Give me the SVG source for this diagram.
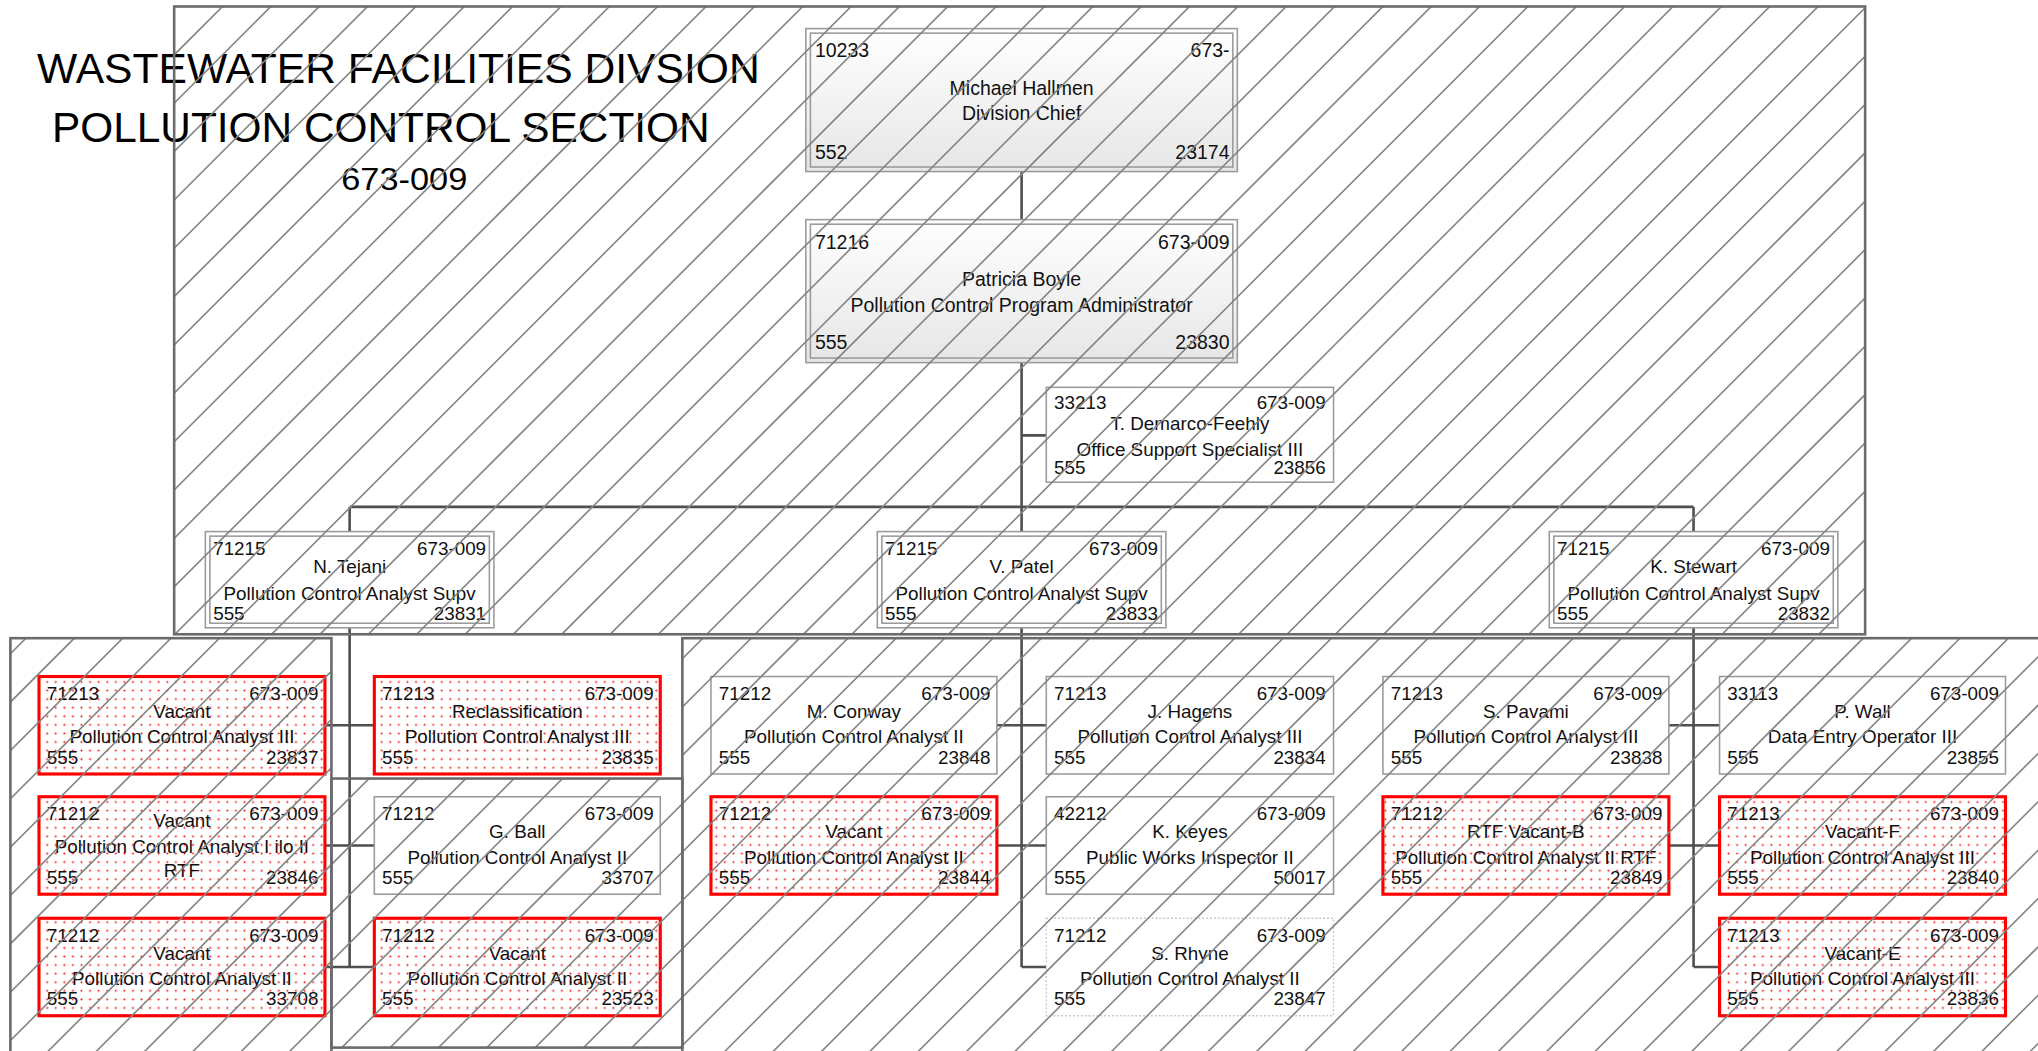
<svg xmlns="http://www.w3.org/2000/svg" width="2038" height="1051" viewBox="0 0 2038 1051">
<defs>
<style>
.fr{fill:none;stroke:#6b6b6b;stroke-width:2}
.cn{fill:none;stroke:#4f4f4f;stroke-width:2}
.n{fill:#fff;stroke:#9a9a9a;stroke-width:1.2}
.di{fill:none;stroke:#9a9a9a;stroke-width:1.2}
.gr{fill:url(#grad);stroke:#9a9a9a;stroke-width:1.2}
.v{fill:url(#dots);stroke:#ff0000;stroke-width:2.4}
.rh{fill:#fff;stroke:#c8c8c8;stroke-width:1;stroke-dasharray:1.5 1.5}
.hl{fill:none;stroke:#858585;stroke-width:1.25}
.t{font-family:"Liberation Sans",Arial,sans-serif;font-size:14.5px;fill:#111}
.big{font-size:15px}
.s{text-anchor:start}.e{text-anchor:end}.m{text-anchor:middle}
.ttl{font-family:"Liberation Sans",Arial,sans-serif;font-size:32px;fill:#000;text-anchor:middle}
</style>
<linearGradient id="grad" x1="0" y1="0" x2="0" y2="1">
<stop offset="0" stop-color="#ffffff"/><stop offset="1" stop-color="#e6e6e6"/>
</linearGradient>
<pattern id="dots" patternUnits="userSpaceOnUse" width="6.6" height="6.6">
<rect width="6.6" height="6.6" fill="#fff"/><circle cx="3.3" cy="3.3" r="0.75" fill="#ff0000"/>
</pattern>
<clipPath id="hclip">
<rect x="134" y="5" width="1301" height="483"/>
<rect x="8" y="491" width="247" height="330"/>
<rect x="255" y="599" width="270" height="207"/>
<rect x="525" y="491" width="1060" height="330"/>
</clipPath>
</defs>
<rect width="2038" height="1051" fill="#fff"/>
<g transform="scale(1.29974)">
<g id="title">
<text class="ttl" x="306.5" y="64" textLength="556" lengthAdjust="spacingAndGlyphs">WASTEWATER FACILITIES DIVSION</text>
<text class="ttl" x="293" y="109" textLength="506" lengthAdjust="spacingAndGlyphs">POLLUTION CONTROL SECTION</text>
<text class="ttl" x="311" y="146" style="font-size:24px" textLength="97" lengthAdjust="spacingAndGlyphs">673-009</text>
</g>
<g id="connectors">
<path class="cn" d="M786,132 V169 M786,279 V409 M786,335 H805 M269,390 H1303 M269,390 V409 M1303,390 V409"/>
<path class="cn" d="M269,483 V744 M250,558 H288 M250,650.5 H288 M250,744 H288"/>
<path class="cn" d="M786,483 V744 M767,558 H805 M767,650.5 H805 M786,744 H805"/>
<path class="cn" d="M1303,483 V744 M1284,558 H1323 M1284,650.5 H1323 M1303,744 H1323"/>
</g>
<g id="n-hallmen">
<rect class="gr" x="620" y="22" width="332" height="110"/><rect class="di" x="623.5" y="25.5" width="325" height="103"/>
<text class="t big s" x="627" y="43.5">10233</text><text class="t big e" x="946" y="43.5">673-</text>
<text class="t big m" x="786" y="73">Michael Hallmen</text><text class="t big m" x="786" y="92">Division Chief</text>
<text class="t big s" x="627" y="122.5">552</text><text class="t big e" x="946" y="122.5">23174</text>
</g>
<g id="n-boyle">
<rect class="gr" x="620" y="169" width="332" height="110"/><rect class="di" x="623.5" y="172.5" width="325" height="103"/>
<text class="t big s" x="627" y="191.5">71216</text><text class="t big e" x="946" y="191.5">673-009</text>
<text class="t big m" x="786" y="220">Patricia Boyle</text><text class="t big m" x="786" y="240">Pollution Control Program Administrator</text>
<text class="t big s" x="627" y="268.5">555</text><text class="t big e" x="946" y="268.5">23830</text>
</g>
<g id="n-demarco">
<rect class="n" x="805" y="298" width="221" height="73"/>
<text class="t s" x="811" y="315">33213</text><text class="t e" x="1020" y="315">673-009</text>
<text class="t m" x="915.5" y="331">T. Demarco-Feehly</text><text class="t m" x="915.5" y="351">Office Support Specialist III</text>
<text class="t s" x="811" y="365">555</text><text class="t e" x="1020" y="365">23856</text>
</g>
<g id="n-tejani">
<rect class="n" x="158" y="409" width="222" height="74"/><rect class="di" x="161.5" y="412.5" width="215" height="67"/>
<text class="t s" x="164" y="427">71215</text><text class="t e" x="374" y="427">673-009</text>
<text class="t m" x="269" y="441">N. Tejani</text><text class="t m" x="269" y="462">Pollution Control Analyst Supv</text>
<text class="t s" x="164" y="477">555</text><text class="t e" x="374" y="477">23831</text>
</g>
<g id="n-patel">
<rect class="n" x="675" y="409" width="222" height="74"/><rect class="di" x="678.5" y="412.5" width="215" height="67"/>
<text class="t s" x="681" y="427">71215</text><text class="t e" x="891" y="427">673-009</text>
<text class="t m" x="786" y="441">V. Patel</text><text class="t m" x="786" y="462">Pollution Control Analyst Supv</text>
<text class="t s" x="681" y="477">555</text><text class="t e" x="891" y="477">23833</text>
</g>
<g id="n-stewart">
<rect class="n" x="1192" y="409" width="222" height="74"/><rect class="di" x="1195.5" y="412.5" width="215" height="67"/>
<text class="t s" x="1198" y="427">71215</text><text class="t e" x="1408" y="427">673-009</text>
<text class="t m" x="1303" y="441">K. Stewart</text><text class="t m" x="1303" y="462">Pollution Control Analyst Supv</text>
<text class="t s" x="1198" y="477">555</text><text class="t e" x="1408" y="477">23832</text>
</g>
<g id="n-vacant-23837">
<rect class="v" x="30" y="520.5" width="220" height="75"/>
<text class="t s" x="36" y="538.5">71213</text><text class="t e" x="245" y="538.5">673-009</text>
<text class="t m" x="140" y="552.5">Vacant</text><text class="t m" x="140" y="572">Pollution Control Analyst III</text>
<text class="t s" x="36" y="587.5">555</text><text class="t e" x="245" y="587.5">23837</text>
</g>
<g id="n-reclass-23835">
<rect class="v" x="288" y="520.5" width="220" height="75"/>
<text class="t s" x="294" y="538.5">71213</text><text class="t e" x="503" y="538.5">673-009</text>
<text class="t m" x="398" y="552.5">Reclassification</text><text class="t m" x="398" y="572">Pollution Control Analyst III</text>
<text class="t s" x="294" y="587.5">555</text><text class="t e" x="503" y="587.5">23835</text>
</g>
<g id="n-vacant-23846">
<rect class="v" x="30" y="613" width="220" height="75"/>
<text class="t s" x="36" y="631">71212</text><text class="t e" x="245" y="631">673-009</text>
<text class="t m" x="140" y="636">Vacant</text><text class="t m" x="140" y="656">Pollution Control Analyst I ilo II</text>
<text class="t m" x="140" y="675">RTF</text>
<text class="t s" x="36" y="680">555</text><text class="t e" x="245" y="680">23846</text>
</g>
<g id="n-ball">
<rect class="n" x="288" y="613" width="220" height="75"/>
<text class="t s" x="294" y="631">71212</text><text class="t e" x="503" y="631">673-009</text>
<text class="t m" x="398" y="645">G. Ball</text><text class="t m" x="398" y="664.5">Pollution Control Analyst II</text>
<text class="t s" x="294" y="680">555</text><text class="t e" x="503" y="680">33707</text>
</g>
<g id="n-vacant-33708">
<rect class="v" x="30" y="706.5" width="220" height="75"/>
<text class="t s" x="36" y="724.5">71212</text><text class="t e" x="245" y="724.5">673-009</text>
<text class="t m" x="140" y="738.5">Vacant</text><text class="t m" x="140" y="758">Pollution Control Analyst II</text>
<text class="t s" x="36" y="773.5">555</text><text class="t e" x="245" y="773.5">33708</text>
</g>
<g id="n-vacant-23523">
<rect class="v" x="288" y="706.5" width="220" height="75"/>
<text class="t s" x="294" y="724.5">71212</text><text class="t e" x="503" y="724.5">673-009</text>
<text class="t m" x="398" y="738.5">Vacant</text><text class="t m" x="398" y="758">Pollution Control Analyst II</text>
<text class="t s" x="294" y="773.5">555</text><text class="t e" x="503" y="773.5">23523</text>
</g>
<g id="n-conway">
<rect class="n" x="547" y="520.5" width="220" height="75"/>
<text class="t s" x="553" y="538.5">71212</text><text class="t e" x="762" y="538.5">673-009</text>
<text class="t m" x="657" y="552.5">M. Conway</text><text class="t m" x="657" y="572">Pollution Control Analyst II</text>
<text class="t s" x="553" y="587.5">555</text><text class="t e" x="762" y="587.5">23848</text>
</g>
<g id="n-hagens">
<rect class="n" x="805" y="520.5" width="221" height="75"/>
<text class="t s" x="811" y="538.5">71213</text><text class="t e" x="1020" y="538.5">673-009</text>
<text class="t m" x="915.5" y="552.5">J. Hagens</text><text class="t m" x="915.5" y="572">Pollution Control Analyst III</text>
<text class="t s" x="811" y="587.5">555</text><text class="t e" x="1020" y="587.5">23834</text>
</g>
<g id="n-vacant-23844">
<rect class="v" x="547" y="613" width="220" height="75"/>
<text class="t s" x="553" y="631">71212</text><text class="t e" x="762" y="631">673-009</text>
<text class="t m" x="657" y="645">Vacant</text><text class="t m" x="657" y="664.5">Pollution Control Analyst II</text>
<text class="t s" x="553" y="680">555</text><text class="t e" x="762" y="680">23844</text>
</g>
<g id="n-keyes">
<rect class="n" x="805" y="613" width="221" height="75"/>
<text class="t s" x="811" y="631">42212</text><text class="t e" x="1020" y="631">673-009</text>
<text class="t m" x="915.5" y="645">K. Keyes</text><text class="t m" x="915.5" y="664.5">Public Works Inspector II</text>
<text class="t s" x="811" y="680">555</text><text class="t e" x="1020" y="680">50017</text>
</g>
<g id="n-rhyne">
<rect class="rh" x="805" y="706.5" width="221" height="75"/>
<text class="t s" x="811" y="724.5">71212</text><text class="t e" x="1020" y="724.5">673-009</text>
<text class="t m" x="915.5" y="738.5">S. Rhyne</text><text class="t m" x="915.5" y="758">Pollution Control Analyst II</text>
<text class="t s" x="811" y="773.5">555</text><text class="t e" x="1020" y="773.5">23847</text>
</g>
<g id="n-pavami">
<rect class="n" x="1064" y="520.5" width="220" height="75"/>
<text class="t s" x="1070" y="538.5">71213</text><text class="t e" x="1279" y="538.5">673-009</text>
<text class="t m" x="1174" y="552.5">S. Pavami</text><text class="t m" x="1174" y="572">Pollution Control Analyst III</text>
<text class="t s" x="1070" y="587.5">555</text><text class="t e" x="1279" y="587.5">23838</text>
</g>
<g id="n-rtf-vacant-b">
<rect class="v" x="1064" y="613" width="220" height="75"/>
<text class="t s" x="1070" y="631">71212</text><text class="t e" x="1279" y="631">673-009</text>
<text class="t m" x="1174" y="645">RTF Vacant-B</text><text class="t m" x="1174" y="664.5">Pollution Control Analyst II RTF</text>
<text class="t s" x="1070" y="680">555</text><text class="t e" x="1279" y="680">23849</text>
</g>
<g id="n-wall">
<rect class="n" x="1323" y="520.5" width="220" height="75"/>
<text class="t s" x="1329" y="538.5">33113</text><text class="t e" x="1538" y="538.5">673-009</text>
<text class="t m" x="1433" y="552.5">P. Wall</text><text class="t m" x="1433" y="572">Data Entry Operator III</text>
<text class="t s" x="1329" y="587.5">555</text><text class="t e" x="1538" y="587.5">23855</text>
</g>
<g id="n-vacant-f">
<rect class="v" x="1323" y="613" width="220" height="75"/>
<text class="t s" x="1329" y="631">71213</text><text class="t e" x="1538" y="631">673-009</text>
<text class="t m" x="1433" y="645">Vacant-F</text><text class="t m" x="1433" y="664.5">Pollution Control Analyst III</text>
<text class="t s" x="1329" y="680">555</text><text class="t e" x="1538" y="680">23840</text>
</g>
<g id="n-vacant-e">
<rect class="v" x="1323" y="706.5" width="220" height="75"/>
<text class="t s" x="1329" y="724.5">71213</text><text class="t e" x="1538" y="724.5">673-009</text>
<text class="t m" x="1433" y="738.5">Vacant-E</text><text class="t m" x="1433" y="758">Pollution Control Analyst III</text>
<text class="t s" x="1329" y="773.5">555</text><text class="t e" x="1538" y="773.5">23836</text>
</g>
<g id="containers">
<path class="hl" clip-path="url(#hclip)" d="M27.4,0l-900,900M64.6,0l-900,900M101.8,0l-900,900M139,0l-900,900M176.2,0l-900,900M213.4,0l-900,900M250.6,0l-900,900M287.8,0l-900,900M325,0l-900,900M362.2,0l-900,900M399.4,0l-900,900M436.6,0l-900,900M473.8,0l-900,900M511,0l-900,900M548.2,0l-900,900M585.4,0l-900,900M622.6,0l-900,900M659.8,0l-900,900M697,0l-900,900M734.2,0l-900,900M771.4,0l-900,900M808.6,0l-900,900M845.8,0l-900,900M883,0l-900,900M920.2,0l-900,900M957.4,0l-900,900M994.6,0l-900,900M1031.8,0l-900,900M1069,0l-900,900M1106.2,0l-900,900M1143.4,0l-900,900M1180.6,0l-900,900M1217.8,0l-900,900M1255,0l-900,900M1292.2,0l-900,900M1329.4,0l-900,900M1366.6,0l-900,900M1403.8,0l-900,900M1441,0l-900,900M1478.2,0l-900,900M1515.4,0l-900,900M1552.6,0l-900,900M1589.8,0l-900,900M1627,0l-900,900M1664.2,0l-900,900M1701.4,0l-900,900M1738.6,0l-900,900M1775.8,0l-900,900M1813,0l-900,900M1850.2,0l-900,900M1887.4,0l-900,900M1924.6,0l-900,900M1961.8,0l-900,900M1999,0l-900,900M2036.2,0l-900,900M2073.4,0l-900,900M2110.6,0l-900,900M2147.8,0l-900,900M2185,0l-900,900M2222.2,0l-900,900M2259.4,0l-900,900M2296.6,0l-900,900M2333.8,0l-900,900M2371,0l-900,900M2408.2,0l-900,900"/>
<rect class="fr" x="134" y="5" width="1301" height="483"/>
<rect class="fr" x="8" y="491" width="247" height="330"/>
<rect class="fr" x="255" y="599" width="270" height="207"/>
<rect class="fr" x="525" y="491" width="1060" height="330"/>
</g>
</g>
</svg>
